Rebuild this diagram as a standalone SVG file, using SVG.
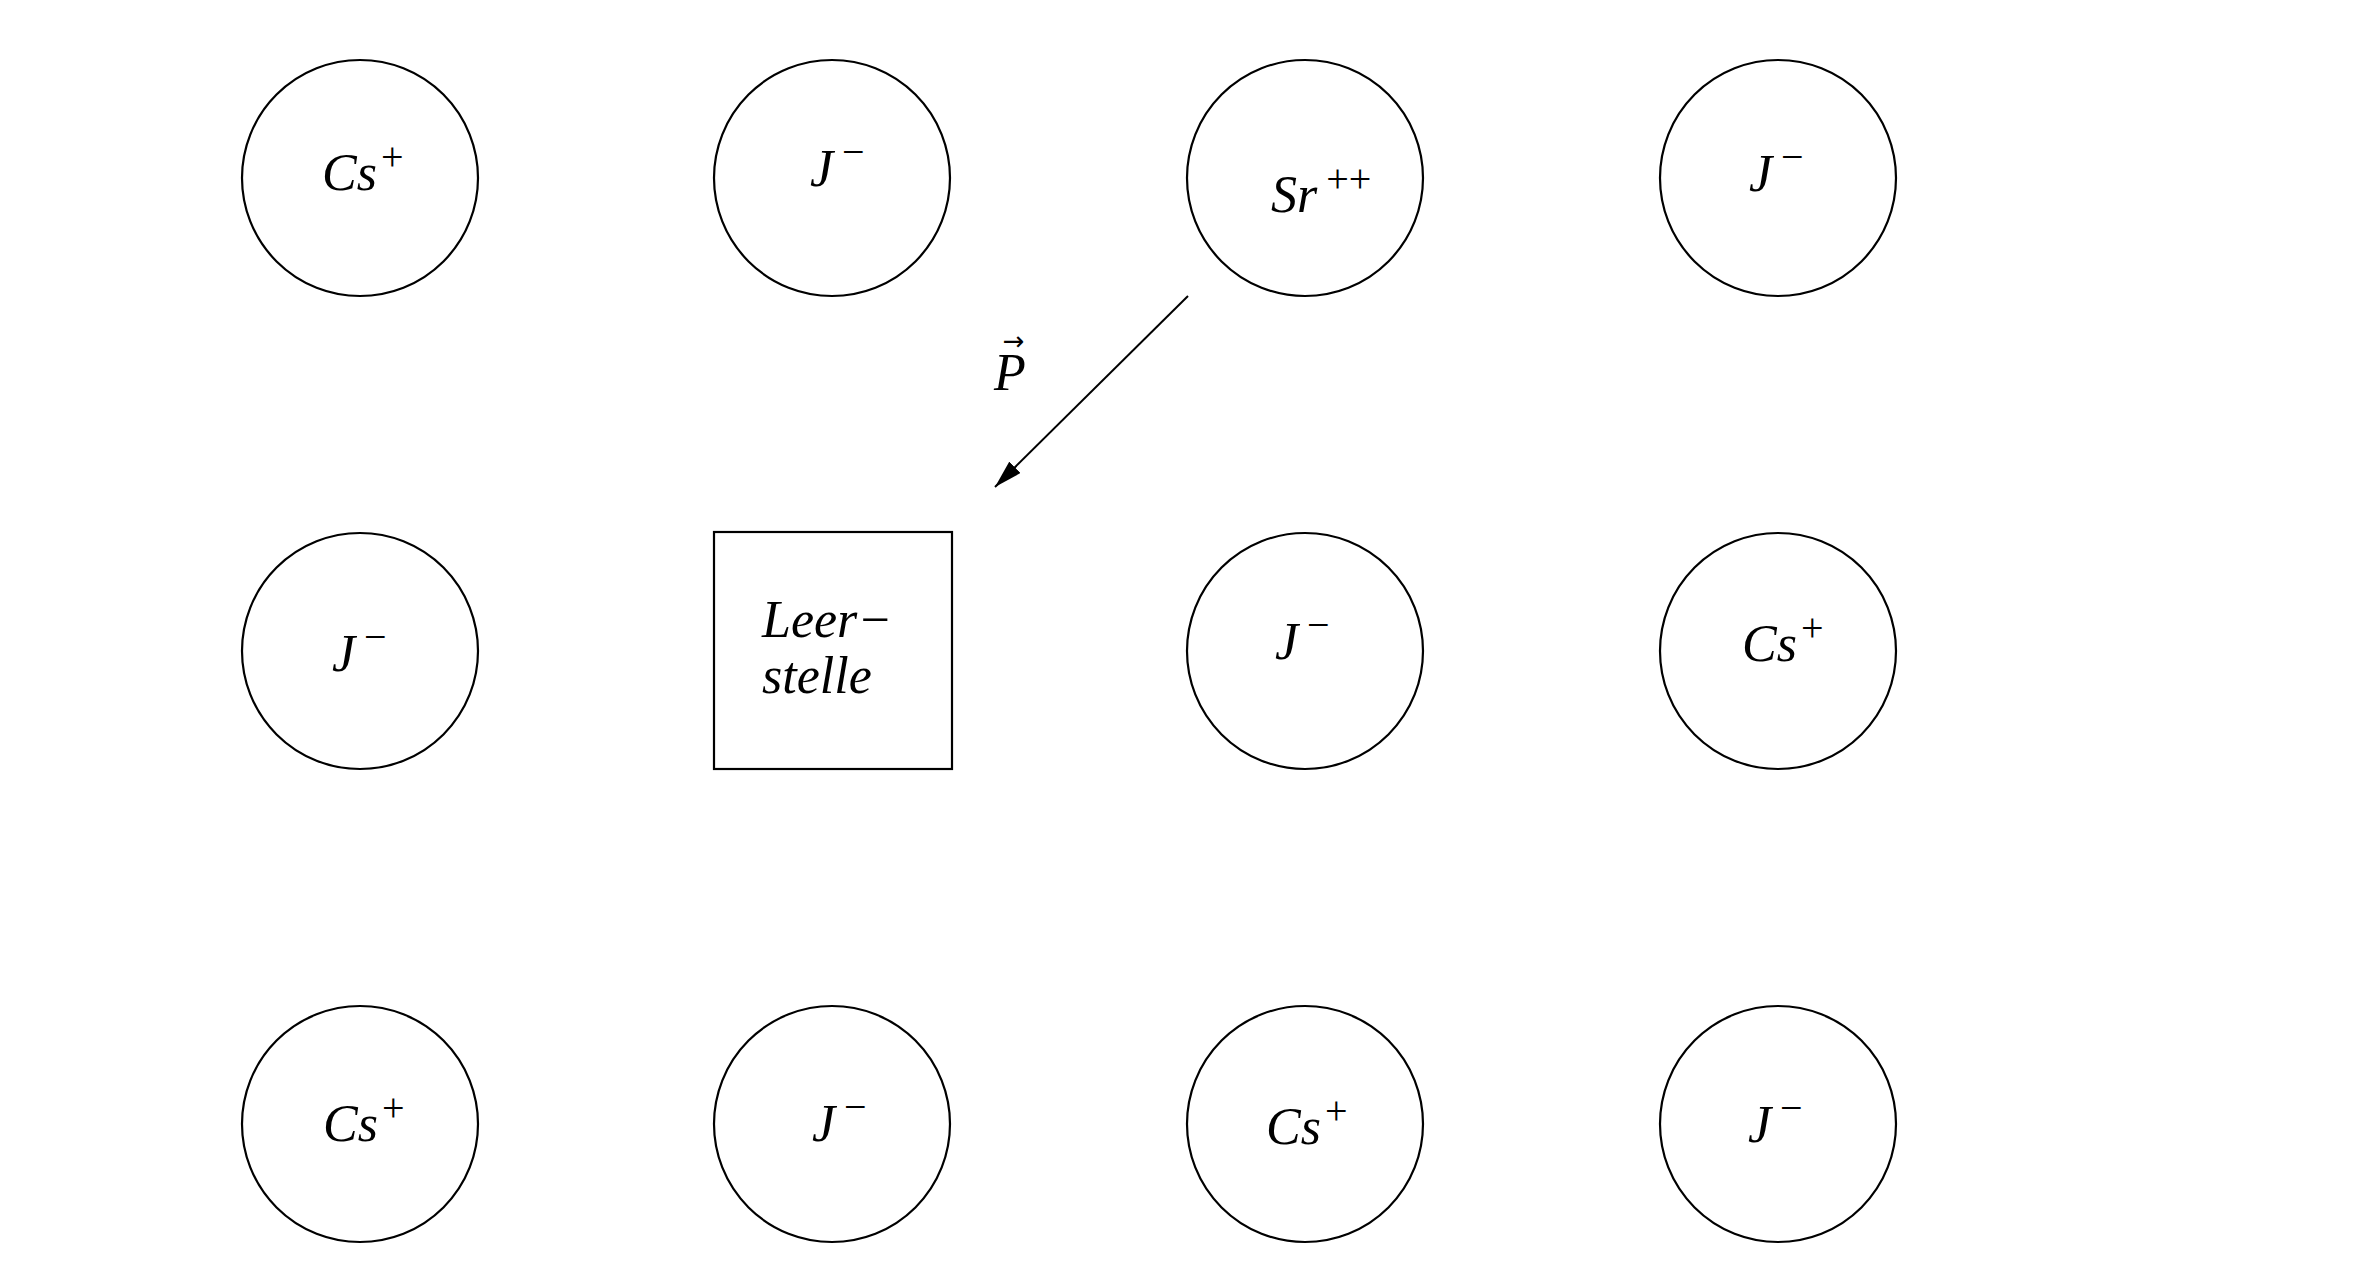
<svg xmlns="http://www.w3.org/2000/svg" width="2363" height="1279" viewBox="0 0 2363 1279">
<style>
.ion{fill:#fff;stroke:#000;stroke-width:2.2}
.lbl{font-family:"Liberation Serif","DejaVu Serif",serif;font-style:italic;font-size:52px;fill:#000}
.sup{font-style:normal;font-size:40px}
.vec{font-family:"DejaVu Sans",sans-serif;font-style:normal;font-size:26px}
.conn{stroke:#000;stroke-width:2;fill:none}
</style>
<defs>
<marker id="arr" viewBox="0 0 28 16" refX="28" refY="8" markerWidth="28" markerHeight="16" markerUnits="userSpaceOnUse" orient="auto">
<path d="M0,0 L28,8 L0,16 z" fill="#000"/>
</marker>
</defs>
<rect width="2363" height="1279" fill="#fff"/>
<g id="n-r1c1"><circle class="ion" cx="360" cy="178" r="118"/><text class="lbl" x="322" y="190">Cs<tspan class="sup" dx="4" dy="-20">+</tspan></text></g>
<g id="n-r1c2"><circle class="ion" cx="832" cy="178" r="118"/><text class="lbl" x="810" y="186">J<tspan class="sup" dx="9" dy="-21">−</tspan></text></g>
<g id="n-r1c3"><circle class="ion" cx="1305" cy="178" r="118"/><text class="lbl" x="1271" y="212">Sr<tspan class="sup" dx="9" dy="-20">++</tspan></text></g>
<g id="n-r1c4"><circle class="ion" cx="1778" cy="178" r="118"/><text class="lbl" x="1749" y="191">J<tspan class="sup" dx="9" dy="-21">−</tspan></text></g>
<g id="n-r2c1"><circle class="ion" cx="360" cy="651" r="118"/><text class="lbl" x="332" y="671">J<tspan class="sup" dx="9" dy="-21">−</tspan></text></g>
<g id="n-r2c2"><rect class="ion" x="714" y="532" width="238" height="237"/><text class="lbl" x="762" y="637">Leer−</text><text class="lbl" x="762" y="693">stelle</text></g>
<g id="n-r2c3"><circle class="ion" cx="1305" cy="651" r="118"/><text class="lbl" x="1275" y="659">J<tspan class="sup" dx="9" dy="-21">−</tspan></text></g>
<g id="n-r2c4"><circle class="ion" cx="1778" cy="651" r="118"/><text class="lbl" x="1742" y="661">Cs<tspan class="sup" dx="4" dy="-20">+</tspan></text></g>
<g id="n-r3c1"><circle class="ion" cx="360" cy="1124" r="118"/><text class="lbl" x="323" y="1141">Cs<tspan class="sup" dx="4" dy="-20">+</tspan></text></g>
<g id="n-r3c2"><circle class="ion" cx="832" cy="1124" r="118"/><text class="lbl" x="812" y="1141">J<tspan class="sup" dx="9" dy="-21">−</tspan></text></g>
<g id="n-r3c3"><circle class="ion" cx="1305" cy="1124" r="118"/><text class="lbl" x="1266" y="1144">Cs<tspan class="sup" dx="4" dy="-20">+</tspan></text></g>
<g id="n-r3c4"><circle class="ion" cx="1778" cy="1124" r="118"/><text class="lbl" x="1748" y="1142">J<tspan class="sup" dx="9" dy="-21">−</tspan></text></g>
<g id="connectors">
<line class="conn" x1="1188" y1="296" x2="995" y2="487" marker-end="url(#arr)"/>
<text class="lbl" x="994" y="390">P<tspan class="vec" dx="-23" dy="-40">→</tspan></text>
</g>
</svg>
